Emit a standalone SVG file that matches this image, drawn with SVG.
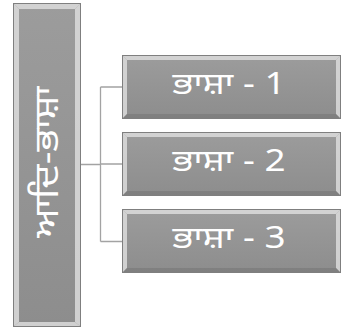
<svg xmlns="http://www.w3.org/2000/svg" width="342" height="330" viewBox="0 0 342 330">
<defs>
<linearGradient id="g" x1="0" y1="0" x2="0" y2="1">
<stop offset="0" stop-color="#9c9c9c"/>
<stop offset="1" stop-color="#8d8d8d"/>
</linearGradient>
</defs>
<style>
.box{fill:url(#g);stroke:#7f7f7f;stroke-width:1}
.hl{fill:#dcdcdc;opacity:0.85}
.sh{fill:#6e6e6e;opacity:0.45}
.lbl{fill:#ffffff;font-family:"Noto Sans","Noto Sans Gurmukhi","Lohit Gurmukhi","DejaVu Sans",sans-serif;text-anchor:middle}
.conn{fill:none;stroke:#a3a3a3;stroke-width:1.3}
</style>
<rect width="342" height="330" fill="#ffffff"/>
<g id="connectors">
<path class="conn" d="M81 164.5H100.5M100.5 87V241.5M100.5 87H122M100.5 164H122M100.5 241.5H122"/>
</g>
<g id="root">
<rect class="box" x="13.5" y="3.5" width="67" height="323"/>
<polygon class="hl" points="14,4 80,4 75,9 19,9"/>
<polygon class="hl" points="19,322 75,322 80,326 14,326" opacity="0.6"/>
<polygon class="hl" points="14,4 19,9 19,322 14,326" opacity="0.35"/>
<polygon class="hl" points="80,4 75,9 75,322 80,326" opacity="0.45"/>
<text class="lbl" font-size="33" transform="translate(58 162) rotate(-90) scale(1.2 1)">ਆਦਿ-ਭਾਸ਼ਾ</text>
</g>
<g id="node1">
<rect class="box" x="122.5" y="55.5" width="218" height="63"/>
<polygon class="hl" points="123,56 340,56 336,60 127,60" opacity="0.35"/>
<polygon class="hl" points="123,56 127,60 127,114 123,118" opacity="0.7"/>
<polygon class="hl" points="340,56 336,60 336,114 340,118" opacity="0.9"/>
<polygon class="sh" points="127,114 336,114 340,118 123,118"/>
<text class="lbl" font-size="31" transform="translate(229 94) scale(1.19 1)">ਭਾਸ਼ਾ - 1</text>
</g>
<g id="node2">
<rect class="box" x="122.5" y="132.5" width="218" height="63"/>
<polygon class="hl" points="123,133 340,133 336,137 127,137" opacity="0.35"/>
<polygon class="hl" points="123,133 127,137 127,191 123,195" opacity="0.7"/>
<polygon class="hl" points="340,133 336,137 336,191 340,195" opacity="0.9"/>
<polygon class="sh" points="127,191 336,191 340,195 123,195"/>
<text class="lbl" font-size="31" transform="translate(229 171) scale(1.19 1)">ਭਾਸ਼ਾ - 2</text>
</g>
<g id="node3">
<rect class="box" x="122.5" y="209.5" width="218" height="63"/>
<polygon class="hl" points="123,210 340,210 336,214 127,214" opacity="0.35"/>
<polygon class="hl" points="123,210 127,214 127,268 123,272" opacity="0.7"/>
<polygon class="hl" points="340,210 336,214 336,268 340,272" opacity="0.9"/>
<polygon class="sh" points="127,268 336,268 340,272 123,272"/>
<text class="lbl" font-size="31" transform="translate(229 248) scale(1.19 1)">ਭਾਸ਼ਾ - 3</text>
</g>
</svg>
